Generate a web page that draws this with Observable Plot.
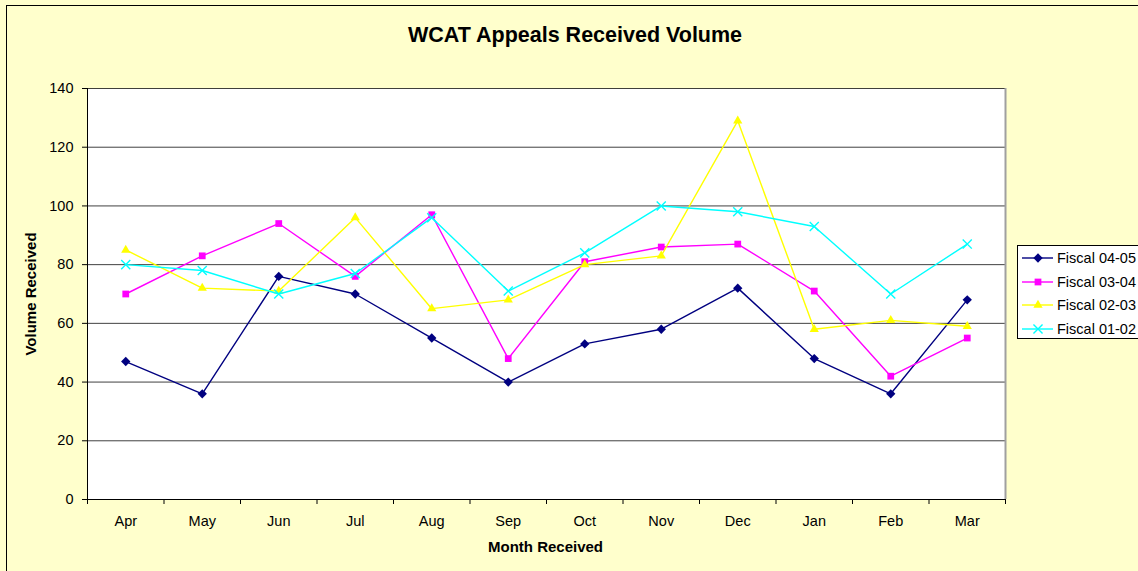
<!DOCTYPE html>
<html><head><meta charset="utf-8">
<script src="https://cdn.jsdelivr.net/npm/d3@7"></script>
<script src="https://cdn.jsdelivr.net/npm/@observablehq/plot@0.6"></script>
<style>
body{margin:0;background:#fff;}
#wrap{position:relative;width:1138px;height:571px;background:#FFFFCC;overflow:hidden;font-family:Arial,"Liberation Sans",sans-serif;color:#000;}
#border{position:absolute;left:6px;top:5px;width:1300px;height:800px;border:1px solid #000;box-sizing:border-box;}
#chart{position:absolute;left:0;top:0;}
#title{position:absolute;left:375px;width:400px;top:25px;text-align:center;font-weight:bold;font-size:21.5px;line-height:1;}
#xlabel{position:absolute;left:395.5px;width:300px;top:538.5px;text-align:center;font-weight:bold;font-size:15px;line-height:1;}
#ylabel{position:absolute;left:29.8px;top:294px;transform:translate(-50%,-50%) rotate(-90deg);white-space:nowrap;font-weight:bold;font-size:15px;line-height:1;}
#legend{position:absolute;left:1017px;top:245px;}
</style>
</head><body>
<div id="wrap">
  <div id="border"></div>
  <div id="chart"></div>
  <div id="title">WCAT Appeals Received Volume</div>
  <div id="xlabel">Month Received</div>
  <div id="ylabel">Volume Received</div>
  <svg id="legend" width="121" height="96"></svg>
</div>
<script>
const months = ["Apr","May","Jun","Jul","Aug","Sep","Oct","Nov","Dec","Jan","Feb","Mar"];
const seriesNames = ["Fiscal 04-05","Fiscal 03-04","Fiscal 02-03","Fiscal 01-02"];
const fy0405 = [47,36,76,70,55,40,53,58,72,48,36,68];
const fy0304 = [70,83,94,76,97,48,81,86,87,71,42,55];
const fy0203 = [85,72,71,96,65,68,80,83,129,58,61,59];
const fy0102 = [80,78,70,77,96,71,84,100,98,93,70,87];
const yTicks = [0,20,40,60,80,100,120,140];

const seriesValues = [fy0405, fy0304, fy0203, fy0102];
const colors = ["#000080","#FF00FF","#FFFF00","#00FFFF"];
const symbols = ["diamond2","square2","triangle2","times"];
const radii = [4.2,4.3,4.4,4.2];

const table = [];
seriesNames.forEach((s, k) => seriesValues[k].forEach((v, i) => table.push({series: s, i, month: months[i], value: v})));

const seriesMarks = [];
seriesNames.forEach((s, k) => {
  const data = table.filter(d => d.series === s);
  seriesMarks.push(Plot.line(data, {x: "i", y: "value", stroke: colors[k], strokeWidth: 1.4}));
  if (symbols[k] === "times") {
    seriesMarks.push(Plot.dot(data, {x: "i", y: "value", symbol: symbols[k], r: radii[k], stroke: colors[k], strokeWidth: 1.4, fill: "none"}));
  } else {
    seriesMarks.push(Plot.dot(data, {x: "i", y: "value", symbol: symbols[k], r: radii[k], fill: colors[k], stroke: "none"}));
  }
});

const chart = Plot.plot({
  width: 1138, height: 571,
  marginLeft: 87, marginRight: 133, marginTop: 88, marginBottom: 72,
  style: {background: "transparent", fontFamily: "Arial, 'Liberation Sans', sans-serif", fontSize: "14.5px", color: "#000", overflow: "visible"},
  x: {type: "linear", domain: [-0.5, 11.5]},
  y: {domain: [0, 140]},
  marks: [
    Plot.frame({fill: "#fff", stroke: null}),
    Plot.ruleY(yTicks.filter(d => d > 0), {stroke: "#000", strokeWidth: 1, strokeOpacity: 0.75}),
    Plot.ruleX([11.5], {stroke: "#a0a0a0", strokeWidth: 2}),
    Plot.axisY({ticks: yTicks, tickSize: 5, tickPadding: 9, label: null, stroke: "#000", fill: "#000"}),
    Plot.axisX({ticks: d3.range(12), tickSize: 0, tickPadding: 16, tickFormat: i => months[i], label: null, fill: "#000"}),
    Plot.axisX({ticks: d3.range(13).map(i => i - 0.5), tickSize: 5, tickFormat: () => "", label: null, stroke: "#000"}),
    Plot.ruleX([-0.5], {stroke: "#000"}),
    Plot.ruleY([0], {stroke: "#000"}),
    ...seriesMarks
  ]
});
document.getElementById("chart").appendChild(chart);

// legend
const lg = d3.select("#legend");
lg.append("rect").attr("x", 0.5).attr("y", 0.5).attr("width", 130).attr("height", 93).attr("fill", "#fff").attr("stroke", "#000");
const symMap = {diamond2: d3.symbolDiamond2, square2: d3.symbolSquare2, triangle2: d3.symbolTriangle2, times: d3.symbolTimes};
const rowY = [13, 37, 60, 84];
seriesNames.forEach((s, k) => {
  const y = rowY[k];
  lg.append("line").attr("x1", 5).attr("x2", 36).attr("y1", y).attr("y2", y).attr("stroke", colors[k]).attr("stroke-width", 1.4);
  const path = d3.symbol(symMap[symbols[k]], radii[k] * radii[k] * Math.PI)();
  const p = lg.append("path").attr("d", path).attr("transform", `translate(21,${y})`);
  if (symbols[k] === "times") p.attr("fill", "none").attr("stroke", colors[k]).attr("stroke-width", 1.4);
  else p.attr("fill", colors[k]);
  lg.append("text").attr("x", 40).attr("y", y + 5.2).attr("font-size", "14.5px").attr("font-family", "Arial, 'Liberation Sans', sans-serif").attr("fill", "#000").text(s);
});
</script>
</body></html>
